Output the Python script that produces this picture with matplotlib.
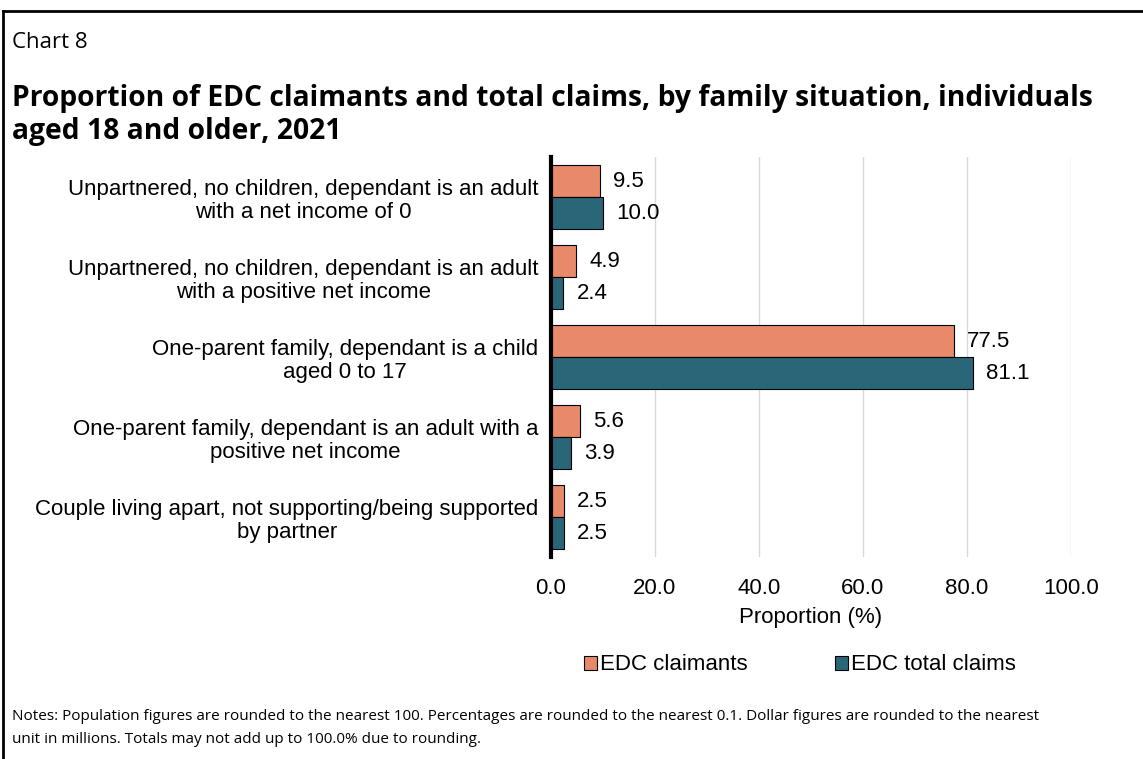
import numpy as np
import matplotlib.pyplot as plt
from matplotlib.patches import Patch
from matplotlib.lines import Line2D

categories = [
    "Unpartnered, no children, dependant is an adult\nwith a net income of 0",
    "Unpartnered, no children, dependant is an adult\nwith a positive net income",
    "One-parent family, dependant is a child\naged 0 to 17",
    "One-parent family, dependant is an adult with a\npositive net income",
    "Couple living apart, not supporting/being supported\nby partner",
]
claimants = [9.5, 4.9, 77.5, 5.6, 2.5]
total_claims = [10.0, 2.4, 81.1, 3.9, 2.5]
x_ticks = [0, 20, 40, 60, 80, 100]

ORANGE = "#E8896A"
TEAL = "#296678"
LABEL_FONT = "Liberation Sans"
TITLE_FONT = "Open Sans"
FS = 16

fig = plt.figure(figsize=(11.43, 7.59), dpi=100)
ax = fig.add_axes([0.482, 0.266, 0.455, 0.527])

y = np.arange(len(categories))
h = 0.4
ax.barh(y - h / 2, claimants, height=h, color=ORANGE, edgecolor="black", linewidth=0.8, zorder=3)
ax.barh(y + h / 2, total_claims, height=h, color=TEAL, edgecolor="black", linewidth=0.8, zorder=3)

# value labels next to each bar
for yi, v in zip(y, claimants):
    ax.text(v + 2.5, yi - h / 2, f"{v:.1f}", va="center", ha="left", fontsize=FS, family=LABEL_FONT)
for yi, v in zip(y, total_claims):
    ax.text(v + 2.5, yi + h / 2, f"{v:.1f}", va="center", ha="left", fontsize=FS, family=LABEL_FONT)

ax.set_ylim(len(categories) - 0.5, -0.5)
ax.set_xlim(0, 100)
ax.set_yticks(y)
ax.set_yticklabels(categories, fontsize=FS, family=LABEL_FONT, linespacing=1.15)
for lab in ax.get_yticklabels():
    lab.set_multialignment("center")
ax.set_xticks(x_ticks)
ax.set_xticklabels([f"{t:.1f}" for t in x_ticks], fontsize=FS, family=LABEL_FONT)
ax.tick_params(axis="both", length=0)
ax.tick_params(axis="y", pad=9)
ax.tick_params(axis="x", pad=15)
ax.set_xlabel("Proportion (%)", fontsize=FS, family=LABEL_FONT, labelpad=6)

ax.grid(axis="x", color="#d9d9d9", linewidth=1, zorder=0)
for s in ["top", "right", "bottom"]:
    ax.spines[s].set_visible(False)
ax.spines["left"].set_linewidth(3)
ax.spines["left"].set_zorder(4)

handles = [
    Patch(facecolor=ORANGE, edgecolor="black", linewidth=0.8, label="EDC claimants"),
    Patch(facecolor=TEAL, edgecolor="black", linewidth=0.8, label="EDC total claims"),
]
fig.legend(handles=handles, loc="center", bbox_to_anchor=(800 / 1143, 1 - 665 / 759), ncol=2,
           frameon=False, prop={"family": LABEL_FONT, "size": FS},
           handlelength=0.6, handleheight=0.6, handletextpad=0.15, columnspacing=3.9)

# titles
fig.text(12 / 1143, 1 - 42 / 759, "Chart 8", fontsize=16, family=TITLE_FONT, va="center", ha="left")
fig.text(12 / 1143, 1 - 115 / 759,
         "Proportion of EDC claimants and total claims, by family situation, individuals\naged 18 and older, 2021",
         fontsize=20.3, fontweight="bold", family=TITLE_FONT, va="center", ha="left", linespacing=1.2)

# notes
fig.text(12 / 1143, 1 - 728 / 759,
         "Notes: Population figures are rounded to the nearest 100. Percentages are rounded to the nearest 0.1. "
         "Dollar figures are rounded to the nearest\nunit in millions. Totals may not add up to 100.0% due to rounding.",
         fontsize=11, family=TITLE_FONT, va="center", ha="left", linespacing=1.8)

# frame lines (top and left)
fig.add_artist(Line2D([3 / 1143, 1], [1 - 11 / 759, 1 - 11 / 759], color="black", linewidth=2, transform=fig.transFigure))
fig.add_artist(Line2D([3 / 1143, 3 / 1143], [0, 1 - 11 / 759], color="black", linewidth=2, transform=fig.transFigure))

fig.savefig("out.png", dpi=100)
